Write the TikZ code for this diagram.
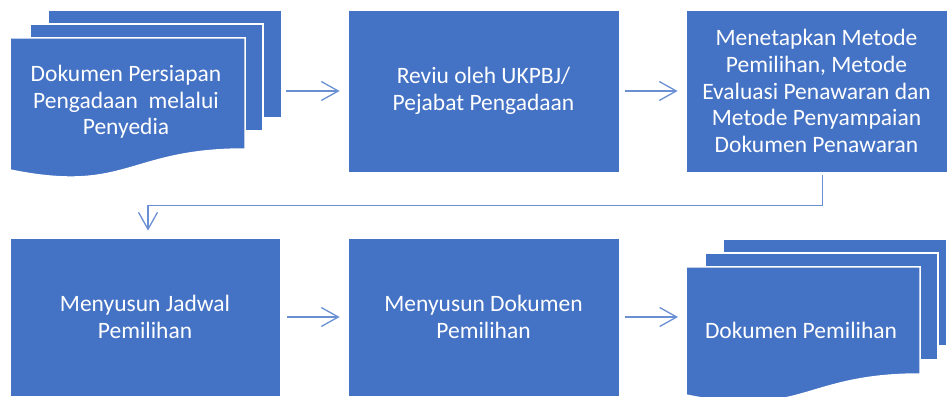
\documentclass[tikz,border=0pt]{standalone}
\usepackage{fontspec}
\setmainfont{Carlito}
\usetikzlibrary{arrows.meta}
\definecolor{boxblue}{HTML}{4472C4}
\definecolor{arrowblue}{HTML}{6A8FD2}

\tikzstyle{myarrow}=[-{Straight Barb[length=17pt, width=19pt]}, draw=arrowblue, line width=1.3pt]
\tikzstyle{process}=[rectangle, fill=boxblue, draw=white, line width=0.8pt, text=white, align=center, inner sep=0pt, font=\fontsize{23.5}{26.7}\selectfont]
\tikzstyle{page}=[rectangle, fill=boxblue, draw=white, line width=1.5pt, inner sep=0pt]
\tikzstyle{doctext}=[text=white, align=center, inner sep=0pt, font=\fontsize{23.5}{26.7}\selectfont]

\begin{document}
\begin{tikzpicture}[x=1pt, y=1pt]
		\useasboundingbox (0, 0) rectangle (947, 396);

		\node (page1c) at (165, 332) [page, minimum width=234pt, minimum height=108pt] {};
		\node (page1b) at (146.5, 318.5) [page, minimum width=233pt, minimum height=107pt] {};
		\filldraw[page] (10, 358) -- (245, 358) -- (245, 247) .. controls (127.5, 247) and (127.5, 202) .. (10, 226) -- cycle;
		\node (persiapan) at (126, 294) [doctext] {Dokumen Persiapan\\Pengadaan~ melalui\\Penyedia};

		\node (review) at (483.5, 305) [process, minimum width=271pt, minimum height=162pt] {Reviu oleh UKPBJ/\\Pejabat Pengadaan};
		\node (metode) at (816.5, 305) [process, minimum width=261pt, minimum height=162pt] {Menetapkan Metode\\Pemilihan, Metode\\Evaluasi Penawaran dan\\Metode Penyampaian\\Dokumen Penawaran};

		\node (jadwal) at (145, 79) [process, minimum width=270pt, minimum height=158pt] {Menyusun Jadwal\\Pemilihan};
		\node (dokumen) at (483.5, 79) [process, minimum width=271pt, minimum height=158pt] {Menyusun Dokumen\\Pemilihan};

		\node (page2c) at (835, 103.5) [page, minimum width=224pt, minimum height=107pt] {};
		\node (page2b) at (821.5, 89.5) [page, minimum width=233pt, minimum height=107pt] {};
		\filldraw[page] (686, 129) coordinate (front2) -- (920, 129) -- (920, 22) .. controls (803, 22) and (803, -23) .. (686, 1) -- cycle;
		\node (dokpemilihan) at (801, 66) [doctext] {Dokumen Pemilihan};

		\draw[myarrow, shorten <=3pt, shorten >=8pt] (review.west -| page1c.east) -- (review.west);
		\draw[myarrow, shorten <=6pt, shorten >=8pt] (review.east) -- (metode.west);
		\draw[myarrow, shorten <=3pt, shorten >=7pt] ([xshift=6pt]metode.south) -- ++(0, -33) -| ([xshift=3pt]jadwal.north);
		\draw[myarrow, shorten <=7pt, shorten >=8pt] (jadwal.east) -- (dokumen.west);
		\draw[myarrow, shorten <=6pt, shorten >=8pt] (dokumen.east) -- (dokumen.east -| front2);
\end{tikzpicture}
\end{document}
